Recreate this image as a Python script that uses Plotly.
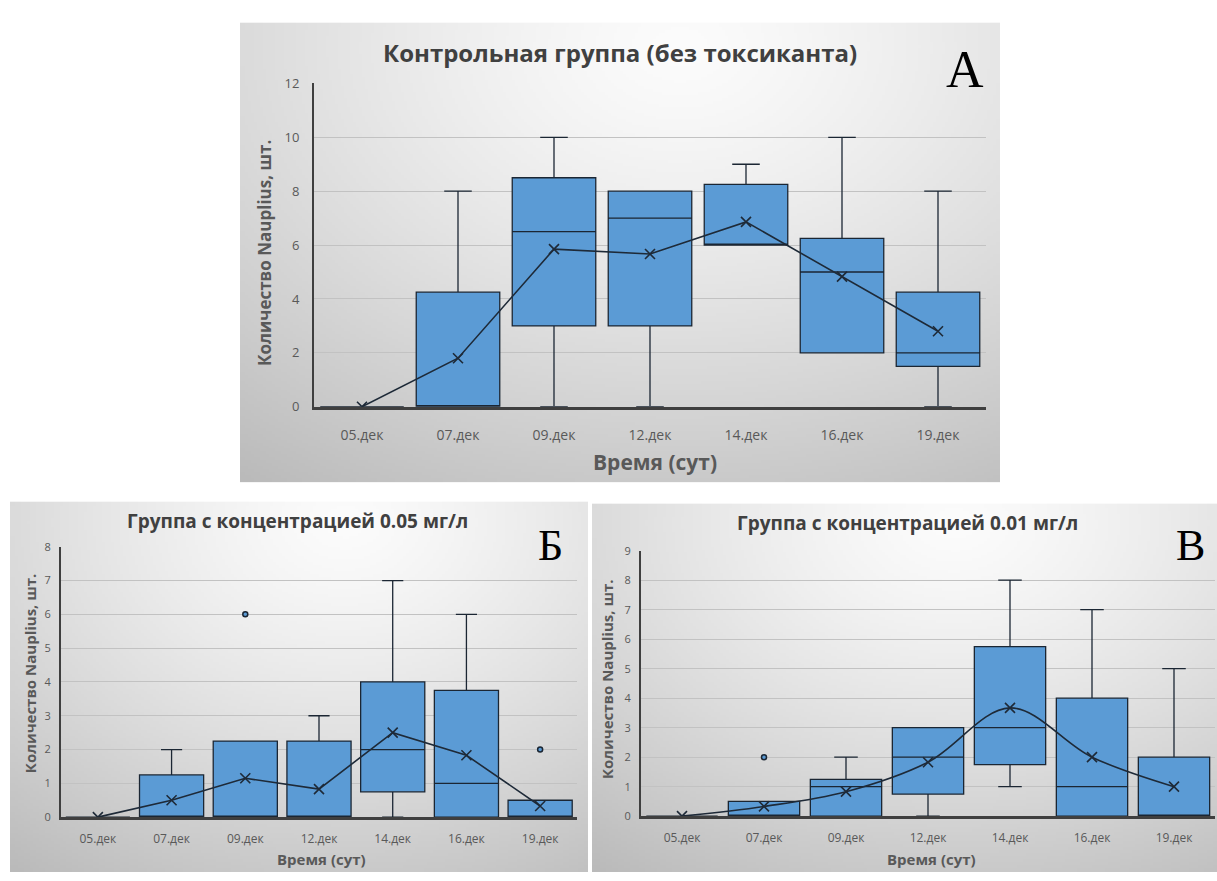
import base64, struct, zlib
import numpy as np
import plotly.graph_objects as go

W, H = 1217, 881

cats = ["05.дек", "07.дек", "09.дек", "12.дек", "14.дек", "16.дек", "19.дек"]

# Panel A – control group
a_low  = [0, 0, 0, 0, 6, 2, 0]
a_q1   = [0, 0, 3, 3, 6, 2, 1.5]
a_med  = [0, 0, 6.5, 7, 6, 5, 2]
a_q3   = [0, 4.25, 8.5, 8, 8.25, 6.25, 4.25]
a_high = [0, 8, 10, 8, 9, 10, 8]
a_mean = [0, 1.8, 5.85, 5.67, 6.86, 4.83, 2.8]

# Panel Б – 0.05 mg/l
b_low  = [0, 0, 0, 0, 0, 0, 0]
b_q1   = [0, 0, 0, 0, 0.75, 0, 0]
b_med  = [0, 0, 0, 0, 2, 1, 0]
b_q3   = [0, 1.25, 2.25, 2.25, 4, 3.75, 0.5]
b_high = [0, 2, 2.25, 3, 7, 6, 0.5]
b_mean = [0, 0.5, 1.15, 0.83, 2.5, 1.83, 0.33]
b_out_x = ["09.дек", "19.дек"]
b_out_y = [6, 2]

# Panel В – 0.01 mg/l
c_low  = [0, 0, 0, 0, 1, 0, 0]
c_q1   = [0, 0, 0, 0.75, 1.75, 0, 0]
c_med  = [0, 0, 1, 2, 3, 1, 0]
c_q3   = [0, 0.5, 1.25, 3, 5.75, 4, 2]
c_high = [0, 0.5, 2, 3, 8, 7, 5]
c_mean = [0, 0.33, 0.83, 1.83, 3.67, 2, 1]
c_out_x = ["07.дек"]
c_out_y = [2]

titles = ["Контрольная группа (без токсиканта)",
          "Группа с концентрацией 0.05 мг/л",
          "Группа с концентрацией 0.01 мг/л"]
letters = ["А", "Б", "В"]
ytitle = "Количество Nauplius, шт."
xtitle = "Время (сут)"

BOX_FILL = "#5B9BD5"
BOX_LINE = "#1b2633"
MEAN_COL = "#1e2a38"
TXT = "#595959"
TITLE_COL = "#404040"
FONT = "Open Sans"


def png_uri(arr):
    h, w, _ = arr.shape
    raw = b"".join(b"\x00" + arr[i].tobytes() for i in range(h))

    def chunk(t, d):
        c = struct.pack(">I", len(d)) + t + d
        return c + struct.pack(">I", zlib.crc32(t + d) & 0xffffffff)

    png = b"\x89PNG\r\n\x1a\n" + chunk(b"IHDR", struct.pack(">IIBBBBB", w, h, 8, 2, 0, 0, 0)) \
        + chunk(b"IDAT", zlib.compress(raw, 9)) + chunk(b"IEND", b"")
    return "data:image/png;base64," + base64.b64encode(png).decode()


def gradient(w, h, cx=0.58, cy=0.05):
    u = np.linspace(0, 1, w)[None, :]
    v = np.linspace(0, 1, h)[:, None]
    d = np.sqrt(((u - cx) / 0.8) ** 2 + ((v - cy) / 0.95) ** 2)
    val = 252 - 50 * np.clip(d, 0, 1.5) ** 1.3
    val = np.clip(val, 0, 255).astype(np.uint8)
    return np.repeat(val[:, :, None], 3, axis=2)


fig = go.Figure()

panels = [
    dict(xa="x", ya="y", low=a_low, q1=a_q1, med=a_med, q3=a_q3, high=a_high, mean=a_mean,
         ox=[], oy=[], shape="linear"),
    dict(xa="x2", ya="y2", low=b_low, q1=b_q1, med=b_med, q3=b_q3, high=b_high, mean=b_mean,
         ox=b_out_x, oy=b_out_y, shape="linear"),
    dict(xa="x3", ya="y3", low=c_low, q1=c_q1, med=c_med, q3=c_q3, high=c_high, mean=c_mean,
         ox=c_out_x, oy=c_out_y, shape="spline"),
]

for p in panels:
    fig.add_trace(go.Box(
        x=cats, q1=p["q1"], median=p["med"], q3=p["q3"],
        lowerfence=p["low"], upperfence=p["high"],
        fillcolor=BOX_FILL, line=dict(color=BOX_LINE, width=1.3),
        width=0.87, whiskerwidth=0.33, boxpoints=False,
        xaxis=p["xa"], yaxis=p["ya"], showlegend=False, hoverinfo="skip"))
    fig.add_trace(go.Scatter(
        x=cats, y=p["mean"], mode="lines+markers",
        line=dict(color=MEAN_COL, width=1.6, shape=p["shape"]),
        marker=dict(symbol="x-thin", size=10, line=dict(width=1.6, color=MEAN_COL)),
        xaxis=p["xa"], yaxis=p["ya"], showlegend=False, hoverinfo="skip"))
    if p["ox"]:
        fig.add_trace(go.Scatter(
            x=p["ox"], y=p["oy"], mode="markers",
            marker=dict(symbol="circle", size=5, color=BOX_FILL,
                        line=dict(width=1.5, color=BOX_LINE)),
            xaxis=p["xa"], yaxis=p["ya"], showlegend=False, hoverinfo="skip"))


def px_x(v):
    return v / W


def px_y(v):
    return 1 - v / H


def xaxis(dom, anchor, fs, stand):
    return dict(domain=dom, anchor=anchor, type="category", categoryorder="array",
                categoryarray=cats, range=[-0.5, 6.5], showline=True, linecolor="#3f3f3f",
                linewidth=2.5, ticks="", showgrid=False, zeroline=False,
                tickfont=dict(family=FONT, size=fs, color=TXT), ticklabelstandoff=stand)


def yaxis(dom, anchor, rng, dt, fs, stand):
    return dict(domain=dom, anchor=anchor, range=rng, dtick=dt, showline=True,
                linecolor="#3f3f3f", linewidth=2, ticks="", showgrid=True,
                gridcolor="#c2c2c2", gridwidth=1, zeroline=False,
                tickfont=dict(family=FONT, size=fs, color=TXT), ticklabelstandoff=stand)


# panel pixel geometry (plot areas)
A = dict(x0=314, x1=986, y0=76, y1=406)
B = dict(x0=61, x1=577, y0=549, y1=825)
C = dict(x0=641, x1=1215, y0=553, y1=824)

fig.update_layout(
    width=W, height=H, margin=dict(l=0, r=0, t=0, b=0),
    paper_bgcolor="white", plot_bgcolor="rgba(0,0,0,0)",
    font=dict(family=FONT, color=TXT),
    xaxis=xaxis([px_x(A["x0"]), px_x(A["x1"])], "y", 14, 14),
    yaxis=yaxis([px_y(A["y1"]), px_y(A["y0"])], "x", [0, 12], 2, 13, 10),
    xaxis2=xaxis([px_x(B["x0"]), px_x(B["x1"])], "y2", 12, 9),
    yaxis2=yaxis([px_y(B["y1"]), px_y(B["y0"])], "x2", [0, 8], 1, 11, 6),
    xaxis3=xaxis([px_x(C["x0"]), px_x(C["x1"])], "y3", 12, 9),
    yaxis3=yaxis([px_y(C["y1"]), px_y(C["y0"])], "x3", [0, 9], 1, 11, 6),
)

# background gradient panels
bgs = [(240, 14, 1000, 483), (10, 503, 588, 881), (592, 505, 1217, 881)]
images = []
for (x0, y0, x1, y1) in bgs:
    w, h = (x1 - x0) // 3, (y1 - y0) // 3
    images.append(dict(source=png_uri(gradient(w, h)), xref="paper", yref="paper",
                       x=px_x(x0), y=px_y(y0), sizex=(x1 - x0) / W, sizey=(y1 - y0) / H,
                       xanchor="left", yanchor="top", sizing="stretch", layer="below"))
fig.update_layout(images=images)

ann = []
# titles
for t, (cx, cy, fs) in zip(titles, [(620, 44, 24), (297, 523, 19), (907, 525, 19)]):
    ann.append(dict(text="<b>" + t + "</b>", x=px_x(cx), y=px_y(cy), xref="paper", yref="paper",
                    showarrow=False, xanchor="center", yanchor="middle",
                    font=dict(family=FONT, size=fs, color=TITLE_COL)))
# letters
for t, (cx, cy, fs) in zip(letters, [(965, 62, 52), (550, 548, 44), (1190, 548, 44)]):
    ann.append(dict(text=t, x=px_x(cx), y=px_y(cy), xref="paper", yref="paper",
                    showarrow=False, xanchor="center", yanchor="middle",
                    font=dict(family="Liberation Serif", size=fs, color="#000000")))
# y titles
for (cx, cy, fs) in [(265, 249, 17), (30, 678, 15), (607, 684, 15)]:
    ann.append(dict(text="<b>" + ytitle + "</b>", x=px_x(cx), y=px_y(cy), xref="paper",
                    yref="paper", showarrow=False, textangle=-90, xanchor="center",
                    yanchor="middle", font=dict(family=FONT, size=fs, color=TXT)))
# x titles
for (cx, cy, fs) in [(655, 462, 21), (321, 868, 15), (931, 868, 15)]:
    ann.append(dict(text="<b>" + xtitle + "</b>", x=px_x(cx), y=px_y(cy), xref="paper",
                    yref="paper", showarrow=False, xanchor="center", yanchor="middle",
                    font=dict(family=FONT, size=fs, color=TXT)))
fig.update_layout(annotations=ann)

fig.write_html("out.html", config={"displayModeBar": False},
               post_script="document.body.style.margin='0';document.body.style.overflow='hidden';")
